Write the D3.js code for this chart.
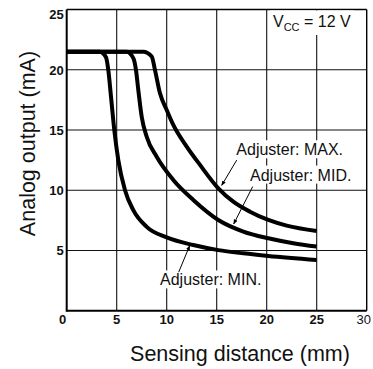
<!DOCTYPE html>
<html>
<head>
<meta charset="utf-8">
<script src="https://cdn.jsdelivr.net/npm/d3@7"></script>
<style>
  html, body { margin: 0; padding: 0; background: #fff; }
  svg { display: block; font-family: "Liberation Sans", Arial, Helvetica, sans-serif; }
</style>
</head>
<body>
<svg id="chart" width="373" height="369"></svg>
<script>
// ---- data ----
const xTicks = [0, 5, 10, 15, 20, 25, 30];
const yTicks = [5, 10, 15, 20, 25];
const xTitle = "Sensing distance (mm)";
const yTitle = "Analog output (mA)";

const minX = [0, 3.3, 3.93, 4.16, 4.43, 4.76, 5.16, 5.83, 6.66, 8.0, 10.0, 12.66, 15.16, 17.66, 20.16, 25];
const minY = [21.5, 21.5, 21.03, 19.97, 17.76, 15.0, 12.5, 10.0, 8.35, 6.96, 6.08, 5.45, 5.03, 4.76, 4.54, 4.21];

const midX = [0, 6.0, 6.67, 6.93, 7.16, 7.5, 8.0, 9.0, 10.66, 12.66, 15.16, 17.66, 20.16, 22.66, 25];
const midY = [21.5, 21.5, 20.95, 19.97, 18.32, 16.1, 14.44, 12.78, 10.85, 9.19, 7.53, 6.57, 6.01, 5.6, 5.32];

const maxX = [0, 7.66, 8.5, 8.83, 9.33, 10.0, 10.66, 12.0, 13.33, 15.16, 16.66, 18.33, 20.16, 22.0, 25];
const maxY = [21.5, 21.5, 21.1, 19.97, 18.04, 16.66, 15.42, 13.62, 12.1, 10.16, 9.05, 8.22, 7.53, 7.06, 6.62];

const labelNames = ["Adjuster: MAX.", "Adjuster: MID.", "Adjuster: MIN."];
const labelX = [22.3, 23.4, 14.4];
const labelY = [12.9, 10.8, 2.1];
const leaderFromX = [17.0, 18.6, 11.2];
const leaderFromY = [12.5, 10.3, 3.2];
const leaderToX = [15.5, 16.7, 12.3];
const leaderToY = [10.4, 7.2, 5.4];

// ---- layout ----
const svg = d3.select("#chart");
const x = d3.scaleLinear().domain([0, 30]).range([66.7, 366.7]);
const y = d3.scaleLinear().domain([0, 25]).range([310.7, 9.5]);

// grid
const g = svg.append("g");
g.selectAll("line.vx").data(xTicks.filter(d => d > 0 && d < 30)).join("line")
  .attr("x1", d => x(d)).attr("x2", d => x(d))
  .attr("y1", y(0)).attr("y2", y(25))
  .attr("stroke", "#111").attr("stroke-width", 1.1);
g.selectAll("line.hy").data(yTicks.filter(d => d < 25)).join("line")
  .attr("x1", x(0)).attr("x2", x(30))
  .attr("y1", d => y(d)).attr("y2", d => y(d))
  .attr("stroke", "#111").attr("stroke-width", 1.1);

// frame
svg.append("line").attr("x1", x(0)).attr("x2", x(30)).attr("y1", y(25)).attr("y2", y(25)).attr("stroke", "#000").attr("stroke-width", 1.3);
svg.append("line").attr("x1", x(30)).attr("x2", x(30)).attr("y1", y(0)).attr("y2", y(25)).attr("stroke", "#000").attr("stroke-width", 1.4);
svg.append("line").attr("x1", x(0)).attr("x2", x(0)).attr("y1", y(0) + 1).attr("y2", y(25)).attr("stroke", "#000").attr("stroke-width", 2);
svg.append("line").attr("x1", x(0)).attr("x2", x(30)).attr("y1", y(0)).attr("y2", y(0)).attr("stroke", "#000").attr("stroke-width", 2);

// white label boxes + text
function addLabel(text, cx, baseline, size) {
  const t = svg.append("text")
    .attr("x", cx).attr("y", baseline)
    .attr("text-anchor", "middle")
    .attr("font-size", size).attr("fill", "#111")
    .text(text);
  const bb = t.node().getBBox();
  svg.insert("rect", () => t.node())
    .attr("x", bb.x - 2).attr("y", bb.y - 1)
    .attr("width", bb.width + 4).attr("height", bb.height + 1)
    .attr("fill", "#fff");
  return t;
}

// curves
const line = d3.line().x(d => x(d[0])).y(d => y(d[1])).curve(d3.curveMonotoneX);
const series = [
  d3.zip(minX, minY),
  d3.zip(midX, midY),
  d3.zip(maxX, maxY)
];
svg.selectAll("path.curve").data(series).join("path")
  .attr("d", line)
  .attr("fill", "none")
  .attr("stroke", "#000")
  .attr("stroke-width", 4)
  .attr("stroke-linejoin", "round")
  .attr("stroke-linecap", "butt");

// annotation labels
labelNames.forEach((n, i) => addLabel(n, x(labelX[i]), y(labelY[i]), 16));

// leader lines with small arrowheads
svg.append("defs").append("marker")
  .attr("id", "arr").attr("viewBox", "0 0 10 10")
  .attr("refX", 9).attr("refY", 5)
  .attr("markerWidth", 5).attr("markerHeight", 5)
  .attr("orient", "auto")
  .append("path").attr("d", "M0,1 L10,5 L0,9 Z").attr("fill", "#000");
labelNames.forEach((n, i) => {
  svg.append("line")
    .attr("x1", x(leaderFromX[i])).attr("y1", y(leaderFromY[i]))
    .attr("x2", x(leaderToX[i])).attr("y2", y(leaderToY[i]))
    .attr("stroke", "#000").attr("stroke-width", 1)
    .attr("marker-end", "url(#arr)");
});

// Vcc label
(function () {
  const t = svg.append("text").attr("x", 273).attr("y", 27)
    .attr("font-size", 16).attr("fill", "#111");
  t.append("tspan").text("V");
  t.append("tspan").attr("font-size", 11).attr("dy", 4).text("CC");
  t.append("tspan").attr("dy", -4).text(" = 12 V");
  const bb = t.node().getBBox();
  svg.insert("rect", () => t.node())
    .attr("x", bb.x - 3).attr("y", y(25) + 1)
    .attr("width", bb.width + 6).attr("height", bb.y + bb.height - y(25) + 1)
    .attr("fill", "#fff");
})();

// tick labels
svg.selectAll("text.xt").data(xTicks).join("text")
  .attr("x", d => x(d) + (d === 0 ? -4 : (d === 30 ? -3 : 0)))
  .attr("y", 324)
  .attr("text-anchor", "middle")
  .attr("font-size", 13)
  .attr("font-weight", d => d === 30 ? "normal" : "bold")
  .attr("fill", "#111")
  .text(d => d);
svg.selectAll("text.yt").data(yTicks).join("text")
  .attr("x", x(0) - 3)
  .attr("y", d => y(d) + (d === 25 ? 9 : 5))
  .attr("text-anchor", "end")
  .attr("font-size", 13)
  .attr("font-weight", "bold")
  .attr("fill", "#111")
  .text(d => d);

// axis titles
svg.append("text").attr("x", 240).attr("y", 361)
  .attr("text-anchor", "middle").attr("font-size", 21.5).attr("fill", "#111")
  .text(xTitle);
svg.append("text")
  .attr("transform", "translate(35,143.5) rotate(-90)")
  .attr("text-anchor", "middle").attr("font-size", 21.5).attr("fill", "#111")
  .text(yTitle);
</script>
</body>
</html>
